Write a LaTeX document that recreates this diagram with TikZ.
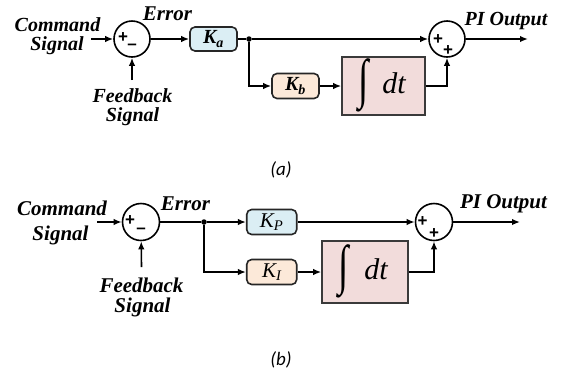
\documentclass[tikz,border=0pt]{standalone}
\usepackage{fontspec}
\usepackage{graphicx}
\setmainfont{Liberation Serif}
\setsansfont{Liberation Sans}
\newfontfamily\capfont{Carlito}
\usetikzlibrary{arrows.meta,calc}

\definecolor{gainblue}{HTML}{DBEEF4}
\definecolor{gainpeach}{HTML}{FCE9D9}
\definecolor{intpink}{HTML}{F2DCDB}
\definecolor{intborder}{HTML}{3A3A3A}

\tikzset{
  wire/.style={line width=1.6pt, draw=black},
  arr/.style={wire, -{Latex[length=8pt,width=6.5pt]}},
  sumnode/.style={circle, draw, line width=1.6pt, inner sep=0pt},
  gainbox/.style={rounded corners=5pt, draw=black!85, line width=1.6pt, inner sep=0pt},
  intbox/.style={draw=intborder, fill=intpink, line width=1.6pt, inner sep=0pt},
  intsign/.style={font=\fontsize{34}{34}\selectfont, inner sep=0pt},
  dtlbl/.style={font=\fontsize{30}{30}\selectfont\itshape, inner sep=0pt, anchor=base},
  lblA/.style={font=\fontsize{20}{20}\selectfont\bfseries\itshape, inner sep=0pt, anchor=base},
  lblB/.style={font=\fontsize{21}{21}\selectfont\bfseries\itshape, inner sep=0pt, anchor=base},
  errlbl/.style={font=\fontsize{21}{21}\selectfont\bfseries\itshape, inner sep=0pt, anchor=base},
  sign/.style={font=\sffamily\bfseries\fontsize{17}{17}\selectfont, inner sep=0pt},
  capt/.style={font=\capfont\itshape\fontsize{19}{19}\selectfont, inner sep=0pt},
  jdot/.style={circle, fill=black, inner sep=0pt, minimum size=5.5pt},
}

\begin{document}
\begin{tikzpicture}[x=1pt, y=-1pt]
\useasboundingbox (0,0) rectangle (561,373);

% ---------------- panel (a) ----------------
\node[sumnode, minimum size=36pt] (s1A) at (132,39) {};
\node[gainbox, fill=gainblue, minimum width=47pt, minimum height=24pt,
      font=\fontsize{20}{20}\selectfont\bfseries\itshape] (kaA) at (213.5,39) {K\textsubscript{a}};
\node[jdot] (jA) at (249,39) {};
\node[sumnode, minimum size=36pt] (s2A) at (447,39) {};
\node[gainbox, fill=gainpeach, minimum width=47pt, minimum height=25pt,
      font=\fontsize{20}{20}\selectfont\bfseries\itshape] (kbA) at (295.5,86) {K\textsubscript{b}};
\node[intbox, minimum width=83pt, minimum height=58pt] (intA) at (383.5,86) {};
\node[intsign] (isA) at ($(intA.center)+(-20,-1)$) {\scalebox{1.1}[1.6]{∫}};
\node[dtlbl] (dtA) at ($(intA.center)+(10.5,7)$) {dt};

\coordinate (inA) at (91,39);
\coordinate (fbA) at (132,80);
\coordinate (outA) at (528,39);

\node[sign] (pA1) at (123,38) {+};
\node[sign] (mA1) at (132,47) {–};
\node[sign] (pA2) at (438,40) {+};
\node[sign] (pA3) at (448,51) {+};

\draw[arr] (inA) -- (s1A);
\draw[arr] (fbA) -- (s1A);
\draw[arr] (s1A) -- (kaA);
\draw[wire] (kaA) -- (jA);
\draw[arr] (jA) -- (s2A);
\draw[arr] (jA) |- (kbA);
\draw[arr] (kbA) -- (intA);
\draw[arr] (intA.east) -| (s2A.south);
\draw[arr] (s2A) -- (outA);

\node[lblA] (cmdA1) at (57.5,31) {Command};
\node[lblA] (cmdA2) at (57,50) {Signal};
\node[errlbl] (errA) at (167.5,20) {Error};
\node[lblA] (fbA1) at (132.5,102) {Feedback};
\node[lblA] (fbA2) at (132.5,121) {Signal};
\node[lblA] (piA) at (506,25) {PI Output};
\node[capt] (capA) at (281,170) {(a)};

% ---------------- panel (b) ----------------
\node[sumnode, minimum size=37pt] (s1B) at (141,222) {};
\node[jdot] (jB) at (204,222) {};
\node[gainbox, fill=gainblue, minimum width=50pt, minimum height=25pt,
      font=\fontsize{21}{21}\selectfont\itshape] (kpB) at (271.7,222) {K\textsubscript{P}};
\node[gainbox, fill=gainpeach, minimum width=50pt, minimum height=25pt,
      font=\fontsize{21}{21}\selectfont\itshape] (kiB) at (271.7,272) {K\textsubscript{I}};
\node[intbox, minimum width=86pt, minimum height=62pt] (intB) at (365,272) {};
\node[intsign] (isB) at ($(intB.center)+(-21,-1)$) {\scalebox{1.1}[1.6]{∫}};
\node[dtlbl] (dtB) at ($(intB.center)+(11,7)$) {dt};
\node[sumnode, minimum size=37pt] (s2B) at (434,222) {};

\coordinate (inB) at (97,222);
\coordinate (fbB) at (141.5,267);
\coordinate (outB) at (520,222);

\node[sign] (pB1) at (130,221) {+};
\node[sign] (mB1) at (141,231) {–};
\node[sign] (pB2) at (422.5,222) {+};
\node[sign] (pB3) at (434,234) {+};

\draw[arr] (inB) -- (s1B);
\draw[arr] (fbB) -- (s1B);
\draw[wire] (s1B) -- (jB);
\draw[arr] (jB) -- (kpB);
\draw[arr] (jB) |- (kiB);
\draw[arr] (kpB) -- (s2B);
\draw[arr] (kiB) -- (intB);
\draw[arr] (intB.east) -| (s2B.south);
\draw[arr] (s2B) -- (outB);

\node[lblB] (cmdB1) at (62,215) {Command};
\node[lblB] (cmdB2) at (60.5,240) {Signal};
\node[errlbl] (errB) at (185.5,210) {Error};
\node[lblB] (fbB1) at (141.5,292) {Feedback};
\node[lblB] (fbB2) at (142.5,312) {Signal};
\node[lblB] (piB) at (503.5,208) {PI Output};
\node[capt] (capB) at (281,360) {(b)};
\end{tikzpicture}
\end{document}
